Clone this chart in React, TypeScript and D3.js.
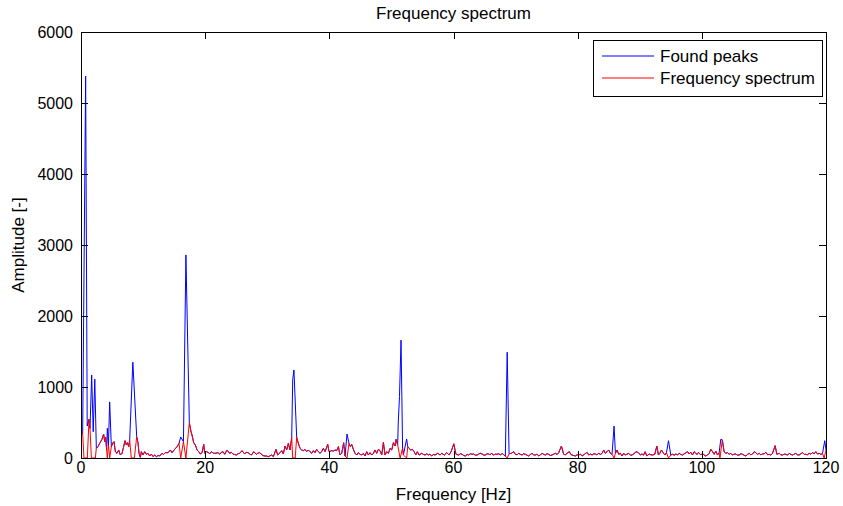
import React from 'react';
import * as d3 from 'd3';

const W = 843;
const H = 506;
const plot = { left: 81, right: 826, top: 32, bottom: 458 };

const chartTitle = 'Frequency spectrum';
const xLabel = 'Frequency [Hz]';
const yLabel = 'Amplitude [-]';
const legendLabels = ['Found peaks', 'Frequency spectrum'];
const xTicks = [0, 20, 40, 60, 80, 100, 120];
const yTicks = [0, 1000, 2000, 3000, 4000, 5000, 6000];

// Frequency spectrum (red): [frequency Hz, amplitude]
const spectrum: [number, number][] = [
  [0, 324], [0.27, 347], [0.48, 0], [1.02, 0], [1.29, 544], [1.45, 417], [1.67, 0], [2.31, 0],
  [2.47, 136], [2.74, 160], [3.01, 206], [3.38, 263], [3.65, 338], [3.81, 230], [3.97, 291], [4.13, 113],
  [4.24, 0], [4.42, 180], [4.62, 0], [4.89, 160], [5.16, 216], [5.32, 230], [5.53, 89], [5.8, 66],
  [6.07, 113], [6.34, 42], [6.61, 66], [6.87, 160], [7.09, 244], [7.3, 183], [7.47, 216], [7.68, 160],
  [7.84, 253], [8.1, 0], [8.6, 0], [8.97, 300], [9.18, 216], [9.35, 66], [9.56, 9], [9.72, 89],
  [9.99, 42], [10.26, 89], [10.53, 52], [10.79, 66], [11.06, 28], [11.33, 56], [11.6, 19], [11.87, 42],
  [12.14, 19], [12.4, 35], [12.68, 28], [13.05, 66], [13.3, 50], [13.59, 75], [14.02, 75], [14.39, 113],
  [14.66, 75], [15.09, 122], [15.47, 160], [15.79, 206], [16.06, 0], [16.5, 230], [16.9, 0], [17.45, 497],
  [17.7, 380], [17.88, 324], [18.15, 216], [18.42, 183], [18.69, 113], [18.96, 89], [19.23, 56], [19.5, 75],
  [19.77, 192], [19.93, 66], [20.2, 89], [20.46, 80], [20.75, 60], [21.0, 89], [21.3, 70], [21.54, 66],
  [22.07, 75], [22.34, 52], [22.6, 80], [22.88, 89], [23.15, 52], [23.52, 113], [23.95, 66], [24.2, 80],
  [24.49, 56], [25.03, 42], [25.3, 60], [25.56, 66], [25.94, 103], [26.37, 56], [26.6, 80], [26.91, 75],
  [27.2, 55], [27.45, 42], [27.82, 89], [28.25, 52], [28.5, 70], [28.79, 75], [29.32, 33], [29.64, 28],
  [29.86, 28], [30.18, 19], [30.71, 42], [30.98, 19], [31.41, 122], [31.68, 42], [32.06, 75], [32.33, 103],
  [32.59, 56], [32.86, 169], [33.13, 113], [33.4, 206], [33.67, 113], [33.94, 291], [34.1, 0], [34.5, 0],
  [34.74, 291], [35.01, 206], [35.28, 136], [35.55, 113], [35.82, 103], [36.08, 122], [36.35, 89], [36.62, 113],
  [36.89, 89], [37.16, 66], [37.43, 103], [37.7, 75], [37.96, 122], [38.23, 89], [38.5, 66], [38.77, 89],
  [39.04, 136], [39.31, 89], [39.74, 192], [39.95, 89], [40.38, 103], [40.65, 98], [40.92, 113], [41.19, 103],
  [41.46, 160], [41.72, 42], [41.99, 66], [42.31, 216], [42.53, 28], [42.85, 0], [43.17, 206], [43.39, 160],
  [43.6, 192], [43.87, 122], [44.14, 66], [44.41, 42], [44.68, 75], [44.95, 52], [45.21, 42], [45.48, 66],
  [45.75, 28], [46.02, 89], [46.29, 42], [46.56, 75], [46.83, 42], [47.1, 66], [47.36, 113], [47.63, 66],
  [47.9, 122], [48.17, 103], [48.44, 42], [48.71, 220], [48.97, 42], [49.24, 89], [49.51, 66], [49.78, 136],
  [50.05, 113], [50.32, 216], [50.58, 169], [50.75, 263], [51.01, 183], [51.4, 0], [51.8, 140], [51.93, 42],
  [52.45, 0], [52.63, 160], [52.84, 136], [53.11, 113], [53.38, 122], [53.65, 89], [53.92, 42], [54.18, 89],
  [54.45, 42], [54.88, 66], [55.15, 50], [55.42, 42], [55.7, 60], [55.96, 42], [56.2, 55], [56.49, 28],
  [56.75, 50], [57.03, 42], [57.46, 66], [57.84, 42], [58.1, 66], [58.53, 42], [58.91, 75], [59.29, 42],
  [59.61, 89], [60.05, 200], [60.25, 113], [60.4, 52], [60.83, 42], [61.1, 60], [61.37, 52], [61.65, 35],
  [61.91, 28], [62.2, 50], [62.45, 42], [62.7, 60], [62.98, 52], [63.25, 56], [63.5, 40], [63.79, 42],
  [64.05, 55], [64.32, 66], [64.7, 52], [64.9, 40], [65.13, 42], [65.4, 60], [65.67, 56], [65.9, 45],
  [66.1, 66], [66.47, 42], [66.75, 55], [67.01, 52], [67.3, 60], [67.55, 42], [67.82, 66], [68.1, 45],
  [68.35, 28], [68.65, 0], [68.95, 60], [69.32, 66], [69.7, 89], [69.96, 52], [70.25, 45], [70.5, 66],
  [70.8, 50], [71.04, 42], [71.3, 60], [71.58, 52], [71.85, 40], [72.11, 28], [72.4, 50], [72.65, 66],
  [72.9, 45], [73.19, 42], [73.45, 55], [73.72, 28], [74.0, 45], [74.26, 66], [74.55, 50], [74.8, 42],
  [75.05, 60], [75.33, 52], [75.6, 35], [75.87, 42], [76.15, 55], [76.41, 66], [76.7, 50], [76.95, 75],
  [77.38, 169], [77.75, 52], [78.0, 45], [78.29, 66], [78.66, 89], [78.9, 50], [79.09, 42], [79.35, 35],
  [79.63, 28], [79.9, 45], [80.17, 42], [80.45, 55], [80.71, 28], [81.08, 52], [81.51, 80], [81.78, 42],
  [82.05, 55], [82.32, 42], [82.6, 60], [82.85, 56], [83.1, 45], [83.39, 66], [83.65, 50], [83.93, 66],
  [84.2, 113], [84.46, 66], [84.73, 89], [85.0, 113], [85.27, 66], [85.54, 52], [85.86, 0], [86.08, 66],
  [86.34, 113], [86.61, 52], [86.88, 66], [87.15, 28], [87.42, 66], [87.69, 42], [87.95, 55], [88.22, 66],
  [88.5, 40], [88.76, 42], [89.05, 60], [89.3, 80], [89.57, 89], [89.83, 66], [90.1, 45], [90.37, 56],
  [90.6, 40], [90.87, 89], [91.14, 28], [91.51, 56], [91.8, 45], [92.05, 42], [92.42, 52], [92.75, 169],
  [93.01, 42], [93.23, 66], [93.5, 113], [93.77, 75], [94.04, 42], [94.3, 75], [94.63, 0], [95.0, 42],
  [95.27, 52], [95.55, 40], [95.81, 56], [96.1, 45], [96.34, 66], [96.6, 50], [96.88, 42], [97.1, 55],
  [97.31, 66], [97.69, 89], [97.96, 56], [98.22, 80], [98.49, 42], [98.76, 89], [99.03, 66], [99.25, 50],
  [99.46, 80], [99.84, 42], [100.1, 66], [100.37, 42], [100.64, 28], [100.91, 42], [101.18, 66], [101.45, 122],
  [101.72, 89], [101.98, 52], [102.25, 98], [102.52, 42], [102.79, 75], [102.92, 0], [103.3, 255], [103.59, 89],
  [103.86, 66], [104.13, 75], [104.4, 52], [104.67, 66], [104.94, 42], [105.2, 55], [105.47, 56], [105.75, 40],
  [106.01, 42], [106.3, 60], [106.55, 52], [106.8, 40], [107.09, 28], [107.35, 50], [107.62, 66], [107.9, 45],
  [108.16, 56], [108.43, 89], [108.7, 75], [108.95, 50], [109.23, 66], [109.5, 45], [109.77, 56], [110.05, 60],
  [110.31, 80], [110.6, 45], [110.85, 52], [111.1, 40], [111.38, 66], [111.81, 174], [112.08, 52], [112.46, 66],
  [112.7, 45], [112.99, 42], [113.25, 55], [113.53, 52], [113.8, 40], [114.07, 66], [114.35, 50], [114.6, 42],
  [114.9, 55], [115.14, 66], [115.4, 45], [115.68, 42], [115.95, 60], [116.22, 75], [116.5, 50], [116.75, 52],
  [117.0, 45], [117.29, 66], [117.55, 55], [117.83, 75], [118.1, 60], [118.36, 89], [118.65, 55], [118.9, 66],
  [119.2, 50], [119.44, 66], [119.7, 0], [120, 113],
];

// Found peaks (blue): extra points where the peak trace rises above the spectrum
const peaks: [number, number][] = [
  [0.75, 5380], [1.0, 450], [1.72, 1170], [1.97, 370], [2.22, 1110], [4.24, 418], [4.62, 790],
  [8.35, 1350], [16.06, 296], [16.9, 2860], [34.1, 1100], [34.3, 1240], [42.85, 338], [51.1, 493],
  [51.3, 864], [51.55, 1660], [52.45, 268], [68.65, 1490], [85.86, 450], [94.63, 244], [103.05, 263],
  [119.8, 244],
];

const FONT = '"Liberation Sans", Arial, Helvetica, sans-serif';

export default function App() {
  const x = d3.scaleLinear().domain([0, 120]).range([plot.left, plot.right]);
  const y = d3.scaleLinear().domain([0, 6000]).range([plot.bottom, plot.top]);

  const line = d3
    .line<[number, number]>()
    .x((d) => x(d[0]))
    .y((d) => y(d[1]));

  const peakTrace: [number, number][] = [
    ...spectrum.filter((d) => d[1] > 0),
    ...peaks,
  ].sort((a, b) => a[0] - b[0]);

  const tickLen = 7;

  return (
    <svg
      width={W}
      height={H}
      style={{ position: 'absolute', left: 0, top: 0, background: '#fff' }}
      fontFamily={FONT}
    >
      <rect x={0} y={0} width={W} height={H} fill="#fff" />
      <path d={line(peakTrace) || ''} fill="none" stroke="#0000ff" strokeWidth={1} />
      <path d={line(spectrum) || ''} fill="none" stroke="#ff0000" strokeWidth={1} />

      {/* axes box */}
      <rect
        x={plot.left + 0.5}
        y={plot.top + 0.5}
        width={plot.right - plot.left}
        height={plot.bottom - plot.top}
        fill="none"
        stroke="#000"
        strokeWidth={1}
        shapeRendering="crispEdges"
      />
      {xTicks.map((t) => (
        <g key={'x' + t}>
          <line x1={x(t) + 0.5} x2={x(t) + 0.5} y1={plot.bottom} y2={plot.bottom - tickLen} stroke="#000" shapeRendering="crispEdges" />
          <line x1={x(t) + 0.5} x2={x(t) + 0.5} y1={plot.top} y2={plot.top + tickLen} stroke="#000" shapeRendering="crispEdges" />
          <text x={x(t)} y={plot.bottom + 15} textAnchor="middle" fontSize={16} fill="#000">
            {t}
          </text>
        </g>
      ))}
      {yTicks.map((t) => (
        <g key={'y' + t}>
          <line x1={plot.left} x2={plot.left + tickLen} y1={y(t) + 0.5} y2={y(t) + 0.5} stroke="#000" shapeRendering="crispEdges" />
          <line x1={plot.right} x2={plot.right - tickLen} y1={y(t) + 0.5} y2={y(t) + 0.5} stroke="#000" shapeRendering="crispEdges" />
          <text x={plot.left - 8} y={y(t) + 6} textAnchor="end" fontSize={16} fill="#000">
            {t}
          </text>
        </g>
      ))}

      <text x={(plot.left + plot.right) / 2} y={19} textAnchor="middle" fontSize={17} fill="#000">
        {chartTitle}
      </text>
      <text x={(plot.left + plot.right) / 2} y={500} textAnchor="middle" fontSize={17} fill="#000">
        {xLabel}
      </text>
      <text transform={`translate(24, ${(plot.top + plot.bottom) / 2}) rotate(-90)`} textAnchor="middle" fontSize={17} fill="#000">
        {yLabel}
      </text>

      {/* legend */}
      <rect x={593.5} y={40.5} width={229} height={56} fill="#fff" stroke="#000" strokeWidth={1} shapeRendering="crispEdges" />
      <line x1={602} x2={654} y1={56} y2={56} stroke="#0000ff" strokeWidth={1} />
      <line x1={602} x2={654} y1={78} y2={78} stroke="#ff0000" strokeWidth={1} />
      <text x={660} y={62} fontSize={17} fill="#000">{legendLabels[0]}</text>
      <text x={660} y={84} fontSize={17} fill="#000">{legendLabels[1]}</text>
    </svg>
  );
}
